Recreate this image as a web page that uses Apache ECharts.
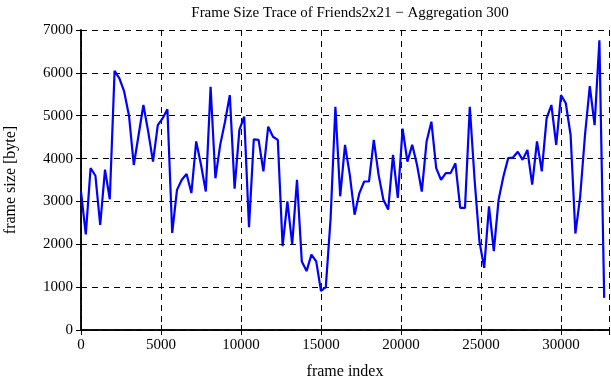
<!DOCTYPE html>
<html>
<head>
<meta charset="utf-8">
<script src="https://cdn.jsdelivr.net/npm/echarts@6/dist/echarts.min.js"></script>
<style>
html, body { margin: 0; padding: 0; background: #fff; }
#chart { width: 611px; height: 380px; }
</style>
</head>
<body>
<div id="chart"></div>
<script>
// aggregation window, one point per 300 frames
var aggStep = 300

// frame size per window [byte]
var frameSizes = [
	3230, 2230, 3780, 3600, 2450, 3740, 3050, 6050, 5870, 5560,
	5000, 3850, 4550, 5250, 4630, 3930, 4780, 4940, 5150, 2265,
	3270, 3505, 3640, 3195, 4400, 3855, 3230, 5675, 3540, 4320,
	4860, 5480, 3300, 4670, 4980, 2400, 4450, 4435, 3700, 4745,
	4510, 4435, 1955, 3000, 2000, 3505, 1600, 1375, 1760, 1600,
	910, 1000, 2600, 5210, 3120, 4320, 3620, 2690, 3195, 3465,
	3465, 4435, 3620, 3040, 2810, 4085, 3080, 4700, 3930, 4320,
	3855, 3230, 4400, 4860, 3776, 3505, 3660, 3660, 3890, 2850,
	2850, 5210, 3505, 2070, 1450, 2885, 1840, 3040, 3580, 4010,
	4025, 4160, 3970, 4200, 3390, 4400, 3700, 4940, 5250, 4320,
	5480, 5290, 4550, 2250, 3120, 4550, 5690, 4780, 6760, 750
]

var xTicks = [0, 5000, 10000, 15000, 20000, 25000, 30000]
var yTicks = [0, 1000, 2000, 3000, 4000, 5000, 6000, 7000]

var trace = []
for (var i = 0; i < frameSizes.length; i++) {
	trace.push([i * aggStep, frameSizes[i]])
}

var serif = 'Liberation Serif'
var gridDash = { color: '#000', type: [6, 5], width: 1 }

var chart = echarts.init(document.getElementById('chart'))
var option = {
	backgroundColor: '#fff',
	animation: false,
	title: {
		text: 'Frame Size Trace of Friends2x21 \u2212 Aggregation 300',
		left: 345,
		top: 1,
		textAlign: 'center',
		textStyle: { fontFamily: serif, fontSize: 15, fontWeight: 'normal', color: '#000' }
	},
	grid: { left: 81, right: 2, top: 30, bottom: 50, outerBoundsMode: 'none', containLabel: false },
	xAxis: [{
		type: 'value',
		min: 0,
		max: 33000,
		interval: 5000,
		name: 'frame index',
		nameLocation: 'middle',
		nameGap: 34,
		nameTextStyle: { fontFamily: serif, fontSize: 16, color: '#000' },
		axisLine: { lineStyle: { color: '#000', width: 1.5 } },
		axisTick: { inside: true, length: 5, lineStyle: { color: '#000' } },
		axisLabel: {
			fontFamily: serif, fontSize: 15, color: '#000', margin: 8,
			showMaxLabel: false,
			formatter: function (v) { return xTicks.indexOf(v) >= 0 ? String(v) : '' }
		},
		splitLine: { show: true, lineStyle: gridDash }
	}, {
		type: 'value',
		position: 'top',
		min: 0,
		max: 33000,
		interval: 5000,
		axisLine: { show: true, lineStyle: { color: '#000', width: 1.5 } },
		axisTick: { show: true, inside: true, length: 5, lineStyle: { color: '#000' } },
		axisLabel: { show: false },
		splitLine: { show: false }
	}],
	yAxis: [{
		type: 'value',
		min: 0,
		max: 7000,
		interval: 1000,
		name: 'frame size [byte]',
		nameLocation: 'middle',
		nameGap: 62,
		nameTextStyle: { fontFamily: serif, fontSize: 16, color: '#000' },
		axisLine: { show: true, lineStyle: { color: '#000', width: 1.5 } },
		axisTick: { show: true, inside: true, length: 5, lineStyle: { color: '#000' } },
		axisLabel: {
			fontFamily: serif, fontSize: 15, color: '#000', margin: 8,
			formatter: function (v) { return yTicks.indexOf(v) >= 0 ? String(v) : '' }
		},
		splitLine: { show: true, lineStyle: gridDash }
	}, {
		type: 'value',
		position: 'right',
		min: 0,
		max: 7000,
		interval: 1000,
		axisLine: { show: true, lineStyle: { color: '#000', width: 1.5 } },
		axisTick: { show: true, inside: true, length: 5, lineStyle: { color: '#000' } },
		axisLabel: { show: false },
		splitLine: { show: false }
	}],
	series: [{
		type: 'line',
		data: trace,
		symbol: 'none',
		lineStyle: { color: '#0000ff', width: 2.2 },
		z: 3
	}]
}
chart.setOption(option)
</script>
</body>
</html>
